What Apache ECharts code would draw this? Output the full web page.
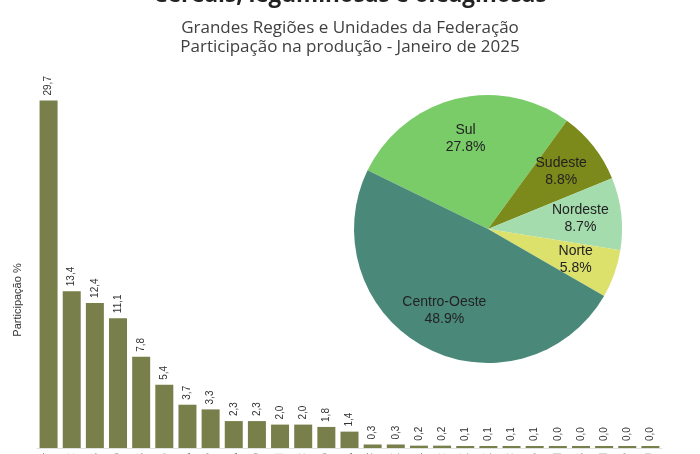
<!DOCTYPE html>
<html>
<head>
<meta charset="utf-8">
<script src="https://cdn.jsdelivr.net/npm/echarts@6/dist/echarts.min.js"></script>
<style>html,body{margin:0;padding:0;background:#fff}#c{width:700px;height:454px}</style>
</head>
<body>
<div id="c"></div>
<script>
const ufCategories = ['MT','PR','RS','GO','MS','MG','BA','SP','MA','TO','PI','SC','RO','PA','DF','SE','AL','RR','PE','CE','AC','PB','RN','ES','AM','AP','RJ'];
const ufValues = [29.7,13.4,12.4,11.1,7.8,5.4,3.7,3.3,2.3,2.3,2.0,2.0,1.8,1.4,0.3,0.3,0.2,0.2,0.1,0.1,0.1,0.1,0.0,0.0,0.0,0.0,0.0];
const regionNames = ['Sul','Sudeste','Nordeste','Norte','Centro-Oeste'];
const regionValues = [27.8,8.8,8.7,5.8,48.9];
const regionColors = ['#79cc67','#7b8a1a','#a4dcae','#dce16c','#4a897a'];

const chart = echarts.init(document.getElementById('c'));
const pieData = regionNames.map((n,i)=>({name:n,value:regionValues[i],itemStyle:{color:regionColors[i]}}));
chart.setOption({
  animation:false,
  backgroundColor:'#ffffff',
  title:[
    {text:'Cereais, leguminosas e oleaginosas',left:'center',top:-21,textStyle:{fontFamily:'Open Sans',fontSize:22.5,fontWeight:'bold',color:'#222'}},
    {text:'Grandes Regiões e Unidades da Federação\nParticipação na produção - Janeiro de 2025',left:'center',top:14,textStyle:{fontFamily:'Open Sans',fontSize:17,fontWeight:'normal',color:'#404040',lineHeight:19}}
  ],
  graphic:[{type:'text',x:18,y:300,rotation:Math.PI/2,style:{text:'Participação %',x:0,y:0,align:'center',verticalAlign:'middle',fontFamily:'Liberation Sans',fontSize:11,fill:'#333'}}],
  grid:{left:37,right:38,top:97,bottom:6,outerBoundsMode:'none',containLabel:false},
  xAxis:{type:'category',data:ufCategories,axisTick:{show:false},axisLine:{show:true,lineStyle:{color:'#e0e0e0'}},
    axisLabel:{show:true,rotate:90,margin:5,fontSize:10,color:'#666',fontFamily:'Liberation Sans'}},
  yAxis:{type:'value',min:0,max:30,show:false},
  series:[
    {type:'bar',data:ufValues,barWidth:18,barMinHeight:2,itemStyle:{color:'#787f4a'},
      label:{show:true,position:'top',rotate:90,align:'left',verticalAlign:'middle',distance:5,fontFamily:'Liberation Sans',fontSize:10,color:'#333',
        formatter:p=>p.value.toFixed(1).replace('.',',')}},
    {type:'pie',center:[488,229],radius:134,startAngle:154,clockwise:true,data:pieData,label:{show:false},labelLine:{show:false},silent:true},
    {type:'pie',center:[488,229],radius:[46,134],startAngle:154,clockwise:true,silent:true,
      data:regionNames.map((n,i)=>({name:n,value:regionValues[i]})),
      itemStyle:{color:'rgba(0,0,0,0)'},
      label:{show:true,position:'inner',fontFamily:'Liberation Sans',fontSize:14,color:'#222',lineHeight:17,
        formatter:p=>p.name+'\n'+p.value.toFixed(1)+'%'},labelLine:{show:false}}
  ]
});
</script>
</body>
</html>
